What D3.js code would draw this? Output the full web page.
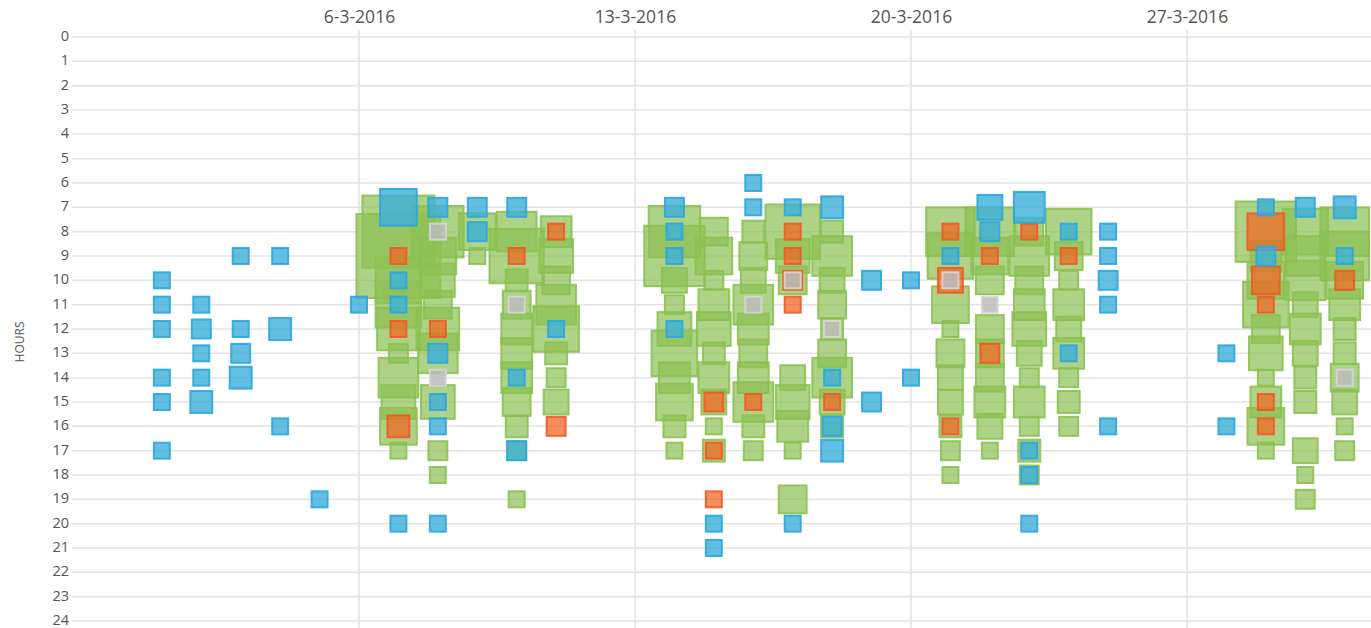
<!DOCTYPE html>
<html>
<head>
<meta charset="utf-8">
<script src="https://cdn.jsdelivr.net/npm/d3@7"></script>
<style>
    html, body { margin: 0; padding: 0; background: #fff; }
    svg { display: block; font-family: "Open Sans", "Noto Sans", sans-serif; }
</style>
</head>
<body>
<div id="chart"></div>
<script>
// Data: each point is [day of March 2016, hour, count]

const dateTicks = ["2016-03-06", "2016-03-13", "2016-03-20", "2016-03-27"];       // Labelled weeks
const hourTicks = d3.range(0, 25);                                                  // 0 .. 24

const greenPoints = [
    [7,8,20],[7,9,24],[7,10,11],[7,11,11],[7,12,10],[7,13,2],[7,14,9],[7,15,7],[7,16,8],[7,17,1],
    [8,8,13],[8,9,8],[8,10,7],[8,11,5],[8,12,10],[8,13,9],[8,15,7],[8,17,2],[8,18,1],
    [9,8,8],[9,9,1],
    [10,8,9],[10,9,14],[10,10,3],[10,11,5],[10,12,6],[10,13,6],[10,14,6],[10,15,5],[10,16,3],[10,17,2],[10,19,1],
    [11,8,6],[11,9,7],[11,10,5],[11,11,9],[11,12,11],[11,13,3],[11,14,2],[11,15,4],
    [14,8,13],[14,9,16],[14,10,4],[14,11,2],[14,12,7],[14,13,11],[14,14,6],[14,15,8],[14,16,3],[14,17,1],
    [15,8,5],[15,9,8],[15,10,2],[15,11,6],[15,12,7],[15,13,3],[15,14,6],[15,15,4],[15,16,1],[15,17,3],
    [16,8,3],[16,9,5],[16,10,4],[16,11,9],[16,12,6],[16,13,5],[16,14,6],[16,15,9],[16,16,3],[16,17,2],
    [17,8,14],[17,9,7],[17,10,5],[17,14,4],[17,15,7],[17,16,6],[17,17,1],[17,19,5],
    [18,8,3],[18,9,9],[18,10,4],[18,11,5],[18,12,3],[18,13,5],[18,14,9],[18,15,4],[18,16,3],
    [21,8,12],[21,9,11],[21,11,8],[21,12,1],[21,13,5],[21,14,4],[21,15,4],[21,16,3],[21,17,2],[21,18,1],
    [22,8,12],[22,9,8],[22,10,5],[22,12,5],[22,13,5],[22,14,5],[22,15,6],[22,16,4],[22,17,1],
    [23,8,5],[23,9,9],[23,10,5],[23,11,6],[23,12,7],[23,13,4],[23,14,2],[23,15,6],[23,16,2],[23,17,3],[23,18,2],
    [24,8,11],[24,9,5],[24,10,2],[24,11,6],[24,12,4],[24,13,6],[24,14,2],[24,15,3],[24,16,2],
    [29,8,16],[29,9,6],[29,10,8],[29,11,11],[29,12,5],[29,13,7],[29,14,1],[29,15,6],[29,16,8],[29,17,1],
    [30,8,11],[30,9,9],[30,10,9],[30,11,4],[30,12,6],[30,13,4],[30,14,3],[30,15,3],[30,17,4],[30,18,1],[30,19,2],
    [31,8,12],[31,9,12],[31,10,8],[31,11,6],[31,12,3],[31,13,3],[31,14,5],[31,15,4],[31,16,1],[31,17,2]
];

const orangePoints = [
    [7,9,1],[7,12,1],[7,16,3],[8,12,1],[10,9,1],[11,8,1],[11,16,2],
    [15,15,2],[15,17,1],[15,19,1],[16,15,1],[17,8,1],[17,9,1],[17,10,2],[17,11,1],[18,15,1],
    [21,8,1],[21,10,4],[21,16,1],[22,9,1],[22,13,2],[23,8,1],[24,9,1],
    [29,8,8],[29,10,5],[29,11,1],[29,15,1],[29,16,1],[31,10,2]
];

const bluePoints = [
    [1,10,1],[1,11,1],[1,12,1],[1,14,1],[1,15,1],[1,17,1],
    [2,11,1],[2,12,2],[2,13,1],[2,14,1],[2,15,3],
    [3,9,1],[3,12,1],[3,13,2],[3,14,3],
    [4,9,1],[4,12,3],[4,16,1],
    [5,19,1],[6,11,1],
    [7,7,8],[7,10,1],[7,11,1],[7,20,1],
    [8,7,2],[8,13,2],[8,15,1],[8,16,1],[8,20,1],
    [9,7,2],[9,8,2],[10,7,2],[10,14,1],[10,17,2],[11,12,1],
    [14,7,2],[14,8,1],[14,9,1],[14,12,1],
    [15,20,1],[15,21,1],[16,6,1],[16,7,1],[17,7,1],[17,20,1],
    [18,7,3],[18,14,1],[18,16,2],[18,17,3],[19,10,2],[19,15,2],
    [20,10,1],[20,14,1],[21,9,1],[22,7,4],[22,8,2],
    [23,7,6],[23,17,1],[23,18,1],[23,20,1],[24,8,1],[24,13,1],
    [25,8,1],[25,9,1],[25,10,2],[25,11,1],[25,16,1],
    [28,13,1],[28,16,1],[29,7,1],[29,9,2],[30,7,2],[31,7,3],[31,9,1]
];

const greyPoints = [
    [8,8,1],[8,14,1],[10,11,1],[16,11,1],[17,10,1],[18,12,1],[21,10,1],[22,11,1],[31,14,1]
];

// Series, drawn bottom to top

const series = [
    {name: "green",  points: greenPoints,  fill: "#8cc152", stroke: "#8cc152", opacity: 0.7},
    {name: "orange", points: orangePoints, fill: "#f0641e", stroke: "#f05a28", opacity: 0.72},
    {name: "blue",   points: bluePoints,   fill: "#3bafda", stroke: "#2ea6dc", opacity: 0.8},
    {name: "grey",   points: greyPoints,   fill: "#bbbbbb", stroke: "#d6d6d6", opacity: 0.85}
];

const createChart = () => {

    const width = 1371, height = 628;
    const plot = {left: 72, right: 1371, top: 30, bottom: 628};

    const svg = d3.select("#chart").append("svg")
        .attr("width", width)
        .attr("height", height);

    const day = d => new Date(Date.UTC(2016, 2, d));

    // Scales

    const x = d3.scaleUtc()
        .domain([new Date(Date.UTC(2016, 1, 28)), day(31)])
        .range([83, 1344.7]);

    const y = d3.scaleLinear()
        .domain([0, 24])
        .range([37, 621]);

    const side = d3.scaleLinear()                                                    // count -> square side
        .domain([1, 24])
        .range([18, 86]);

    // Grid

    const grid = svg.append("g").attr("class", "grid");

    grid.selectAll(".hline")
        .data(hourTicks)
        .enter()
        .append("line")
            .attr("x1", plot.left).attr("x2", plot.right)
            .attr("y1", d => y(d)).attr("y2", d => y(d))
            .style("stroke", "#e3e3e3")
            .style("stroke-width", 1.5);

    const weeks = dateTicks.map(s => new Date(s + "T00:00:00Z"));

    grid.selectAll(".vline")
        .data(weeks)
        .enter()
        .append("line")
            .attr("x1", d => x(d)).attr("x2", d => x(d))
            .attr("y1", plot.top).attr("y2", plot.bottom)
            .style("stroke", "#e3e3e3")
            .style("stroke-width", 1.5);

    // Axes

    const yAxis = svg.append("g")
        .attr("transform", "translate(" + (plot.left - 3) + ",-1)")
        .call(d3.axisLeft(y).tickValues(hourTicks).tickSize(0).tickPadding(0));
    yAxis.select(".domain").remove();
    yAxis.selectAll("text")
        .style("font-family", "'Open Sans', sans-serif")
        .style("font-size", "14.5px")
        .style("fill", "#555");

    const xAxis = svg.append("g")
        .attr("transform", "translate(0,23)")
        .call(d3.axisTop(x).tickValues(weeks).tickSize(0).tickPadding(0)
            .tickFormat(d => d.getUTCDate() + "-" + (d.getUTCMonth() + 1) + "-" + d.getUTCFullYear()));
    xAxis.select(".domain").remove();
    xAxis.selectAll("text")
        .attr("dy", 0)
        .style("font-family", "'Open Sans', sans-serif")
        .style("font-size", "17.5px")
        .style("fill", "#555");

    svg.append("text")
        .attr("transform", "translate(24,342) rotate(-90)")
        .attr("text-anchor", "middle")
        .style("font-size", "12px")
        .style("fill", "#555")
        .text("HOURS");

    // Squares

    svg.append("clipPath").attr("id", "clip")
        .append("rect")
            .attr("x", plot.left).attr("y", 0)
            .attr("width", plot.right - plot.left).attr("height", height);

    const marks = svg.append("g").attr("clip-path", "url(#clip)");

    const sw = 2;

    series.forEach(s => {
        const sorted = s.points.slice().sort((a, b) => b[2] - a[2]);                // big ones underneath
        marks.append("g")
            .attr("class", s.name)
            .selectAll("rect")
            .data(sorted)
            .enter()
            .append("rect")
                .attr("x", d => x(day(d[0])) - side(d[2]) / 2 + sw / 2)
                .attr("y", d => y(d[1]) - side(d[2]) / 2 + sw / 2)
                .attr("width", d => side(d[2]) - sw)
                .attr("height", d => side(d[2]) - sw)
                .style("fill", s.fill)
                .style("fill-opacity", s.opacity)
                .style("stroke", s.stroke)
                .style("stroke-opacity", 0.9)
                .style("stroke-width", sw);
    });
};

createChart();
</script>
</body>
</html>
